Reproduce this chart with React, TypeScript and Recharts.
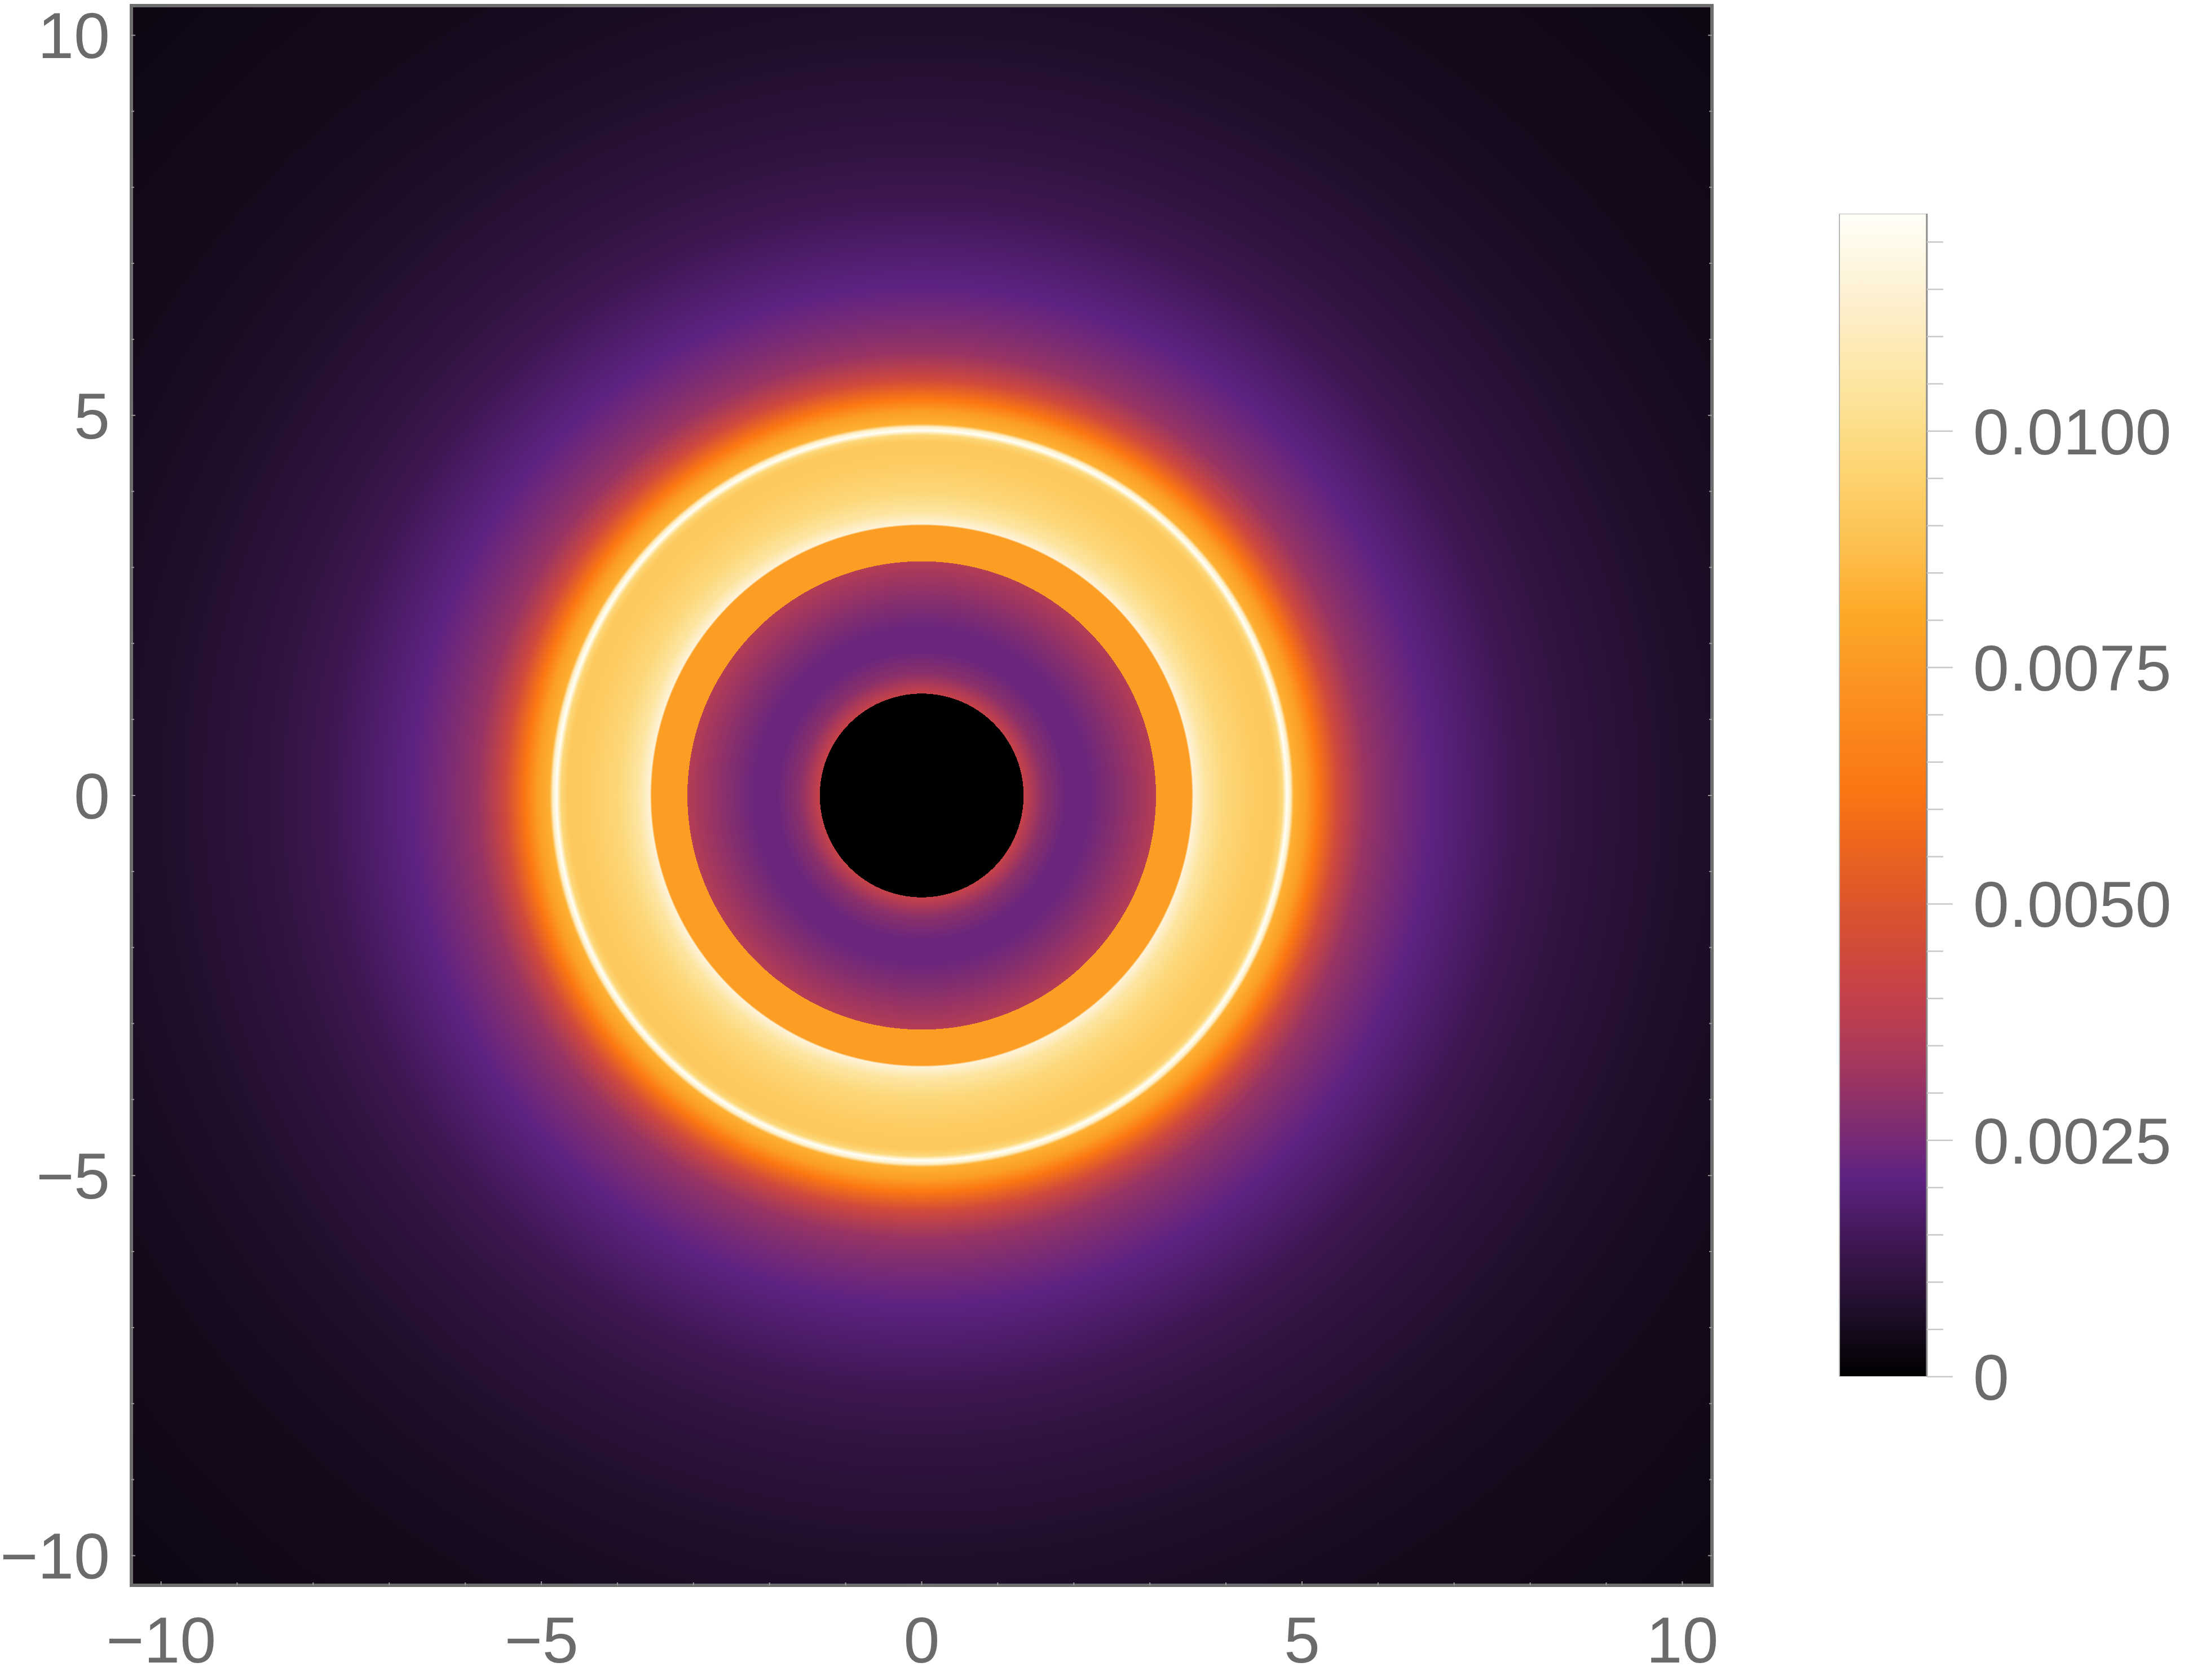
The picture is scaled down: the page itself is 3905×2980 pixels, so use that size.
import React from 'react';
import {
  ComposedChart,
  BarChart,
  Bar,
  XAxis,
  YAxis,
  ReferenceArea,
} from 'recharts';

// radial intensity profile of the image (r in plot units)
const radius = [
  0, 1.34, 1.34, 1.4, 1.6, 1.9, 2.2, 2.5, 2.9, 3.08, 3.08, 3.55, 3.57, 3.73, 4.0, 4.4, 4.65,
  4.74, 4.8, 4.85, 4.89, 5.05, 5.22, 5.48, 5.83, 6.2, 6.7, 7.3, 7.8, 8.5, 9.25, 10.0, 10.4, 12.0,
  15.0,
];
const intensity = [
  0, 0, 0.0041, 0.0038, 0.0029, 0.0023, 0.0023, 0.0027, 0.0033, 0.0037, 0.0077, 0.0077, 0.0116,
  0.0105, 0.0097, 0.0092, 0.0091, 0.0097, 0.0123, 0.0112, 0.0083, 0.0077, 0.0062, 0.0044, 0.0031,
  0.0026, 0.0021, 0.0017, 0.0014, 0.0011, 0.0009, 0.0007, 0.00065, 0.00045, 0.0003,
];

// colour map (value -> colour)
const cmapValues = [
  0, 0.0008, 0.0014, 0.0021, 0.0025, 0.003, 0.0035, 0.0041, 0.0048, 0.0055, 0.0062, 0.0072,
  0.0081, 0.0088, 0.0096, 0.0104, 0.0114, 0.0123,
];
const cmapColors = [
  '#000000', '#241030', '#3e1752', '#5e2282', '#762a76', '#923266', '#ae3a58', '#c64248',
  '#d85030', '#ea6220', '#fb7612', '#fb9020', '#fdaa28', '#fdc050', '#fdd572', '#fde49c',
  '#fdf0d0', '#fffff8',
];

const frameTicks = [-10, -9, -8, -7, -6, -5, -4, -3, -2, -1, 0, 1, 2, 3, 4, 5, 6, 7, 8, 9, 10];
const frameLabels = [-10, -5, 0, 5, 10];

const barTicks = [
  0, 0.0005, 0.001, 0.0015, 0.002, 0.0025, 0.003, 0.0035, 0.004, 0.0045, 0.005, 0.0055, 0.006,
  0.0065, 0.007, 0.0075, 0.008, 0.0085, 0.009, 0.0095, 0.01, 0.0105, 0.011, 0.0115, 0.012,
];
const barLabels = [0, 0.0025, 0.005, 0.0075, 0.01];

const D = 10.39;
const R_MAX = 15;
const V_MAX = 0.0123;

const FONT = '"Liberation Sans", Arial, sans-serif';
const TEXT = '#6b6b6b';
const FS = 115;
const TICK = '#9a9a9a';

function hexToRgb(h: string) {
  const n = parseInt(h.slice(1), 16);
  return [(n >> 16) & 255, (n >> 8) & 255, n & 255];
}

function colorAt(v: number) {
  if (v <= cmapValues[0]) return cmapColors[0];
  for (let i = 1; i < cmapValues.length; i++) {
    if (v <= cmapValues[i]) {
      const t = (v - cmapValues[i - 1]) / (cmapValues[i] - cmapValues[i - 1]);
      const a = hexToRgb(cmapColors[i - 1]);
      const b = hexToRgb(cmapColors[i]);
      const c = a.map((x, k) => Math.round(x + (b[k] - x) * t));
      return `rgb(${c[0]},${c[1]},${c[2]})`;
    }
  }
  return cmapColors[cmapColors.length - 1];
}

const fmt = (v: number) => (v < 0 ? `\u2212${Math.abs(v)}` : `${v}`);
const isMajor = (v: number) => frameLabels.includes(v);
const tickLen = (v: number) => (isMajor(v) ? 7 : 5);

function BottomTick(props: any) {
  const { x, y, payload } = props;
  return (
    <g>
      <line x1={x} x2={x} y1={y} y2={y - tickLen(payload.value)} stroke={TICK} strokeWidth={2} />
      {isMajor(payload.value) && (
        <text x={x} y={y + 55} dy="0.71em" textAnchor="middle" fill={TEXT} fontSize={FS} fontFamily={FONT}>
          {fmt(payload.value)}
        </text>
      )}
    </g>
  );
}

function LeftTick(props: any) {
  const { x, y, payload } = props;
  return (
    <g>
      <line x1={x} x2={x + tickLen(payload.value)} y1={y} y2={y} stroke={TICK} strokeWidth={2} />
      {isMajor(payload.value) && (
        <text x={x - 38} y={y} dy="0.355em" textAnchor="end" fill={TEXT} fontSize={FS} fontFamily={FONT}>
          {fmt(payload.value)}
        </text>
      )}
    </g>
  );
}

function TopTick(props: any) {
  const { x, y, payload } = props;
  return <line x1={x} x2={x} y1={y} y2={y + tickLen(payload.value)} stroke={TICK} strokeWidth={2} />;
}

function RightTick(props: any) {
  const { x, y, payload } = props;
  return <line x1={x} x2={x - tickLen(payload.value)} y1={y} y2={y} stroke={TICK} strokeWidth={2} />;
}

function BarTick(props: any) {
  const { x, y, payload } = props;
  const major = barLabels.some((b) => Math.abs(b - payload.value) < 1e-9);
  return (
    <g>
      <line x1={x} x2={x + (major ? 46 : 29)} y1={y} y2={y} stroke="#c8c8c8" strokeWidth={2.5} />
      {major && (
        <text x={x + 82} y={y} dy="0.355em" textAnchor="start" fill={TEXT} fontSize={FS} fontFamily={FONT}>
          {payload.value === 0 ? '0' : payload.value.toFixed(4)}
        </text>
      )}
    </g>
  );
}

const barData = [{ name: 'scale', v: V_MAX }];

export default function App() {
  return (
    <div style={{ position: 'absolute', left: 0, top: 0, width: 3905, height: 2980, background: '#fff' }}>
      <div style={{ position: 'absolute', left: 0, top: 0 }}>
        <ComposedChart width={3100} height={2980} margin={{ top: 0, right: 0, bottom: 0, left: 0 }}>
          <defs>
            <radialGradient id="disk" cx="0.5" cy="0.5" r={R_MAX / (2 * D)} fx="0.5" fy="0.5">
              {radius.map((r, i) => (
                <stop key={i} offset={r / R_MAX} stopColor={colorAt(intensity[i])} />
              ))}
            </radialGradient>
          </defs>
          <XAxis
            xAxisId={0}
            type="number"
            dataKey="x"
            domain={[-D, D]}
            ticks={frameTicks}
            interval={0}
            height={168}
            tickSize={0}
            tickMargin={0}
            axisLine={false}
            tickLine={false}
            tick={<BottomTick />}
            allowDataOverflow
          />
          <XAxis
            xAxisId="top"
            orientation="top"
            type="number"
            domain={[-D, D]}
            ticks={frameTicks}
            interval={0}
            height={10}
            tickSize={0}
            tickMargin={0}
            axisLine={false}
            tickLine={false}
            tick={<TopTick />}
            allowDataOverflow
          />
          <YAxis
            yAxisId={0}
            type="number"
            dataKey="y"
            domain={[-D, D]}
            ticks={frameTicks}
            interval={0}
            width={233}
            tickSize={0}
            tickMargin={0}
            axisLine={false}
            tickLine={false}
            tick={<LeftTick />}
            allowDataOverflow
          />
          <YAxis
            yAxisId="right"
            orientation="right"
            type="number"
            domain={[-D, D]}
            ticks={frameTicks}
            interval={0}
            width={64}
            tickSize={0}
            tickMargin={0}
            axisLine={false}
            tickLine={false}
            tick={<RightTick />}
            allowDataOverflow
          />
          <ReferenceArea
            x1={-D}
            x2={D}
            y1={-D}
            y2={D}
            fill="url(#disk)"
            fillOpacity={1}
            stroke="#6e6e6e"
            strokeWidth={6}
            strokeOpacity={1}
          />
        </ComposedChart>
      </div>
      <div style={{ position: 'absolute', left: 3200, top: 0 }}>
        <BarChart
          width={705}
          height={2980}
          data={barData}
          barCategoryGap={0}
          margin={{ top: 379, right: 0, bottom: 538, left: 62 }}
        >
          <defs>
            <linearGradient id="scale" x1="0" y1="1" x2="0" y2="0">
              {cmapValues.map((v, i) => (
                <stop key={i} offset={v / V_MAX} stopColor={cmapColors[i]} />
              ))}
            </linearGradient>
          </defs>
          <XAxis dataKey="name" hide />
          <YAxis
            orientation="right"
            type="number"
            domain={[0, V_MAX]}
            ticks={barTicks}
            interval={0}
            width={488}
            tickSize={0}
            tickMargin={0}
            axisLine={{ stroke: '#8a8a8a', strokeWidth: 3 }}
            tickLine={false}
            tick={<BarTick />}
            allowDataOverflow
          />
          <Bar dataKey="v" fill="url(#scale)" stroke="#b8b8b8" strokeWidth={2} isAnimationActive={false} />
        </BarChart>
      </div>
    </div>
  );
}
